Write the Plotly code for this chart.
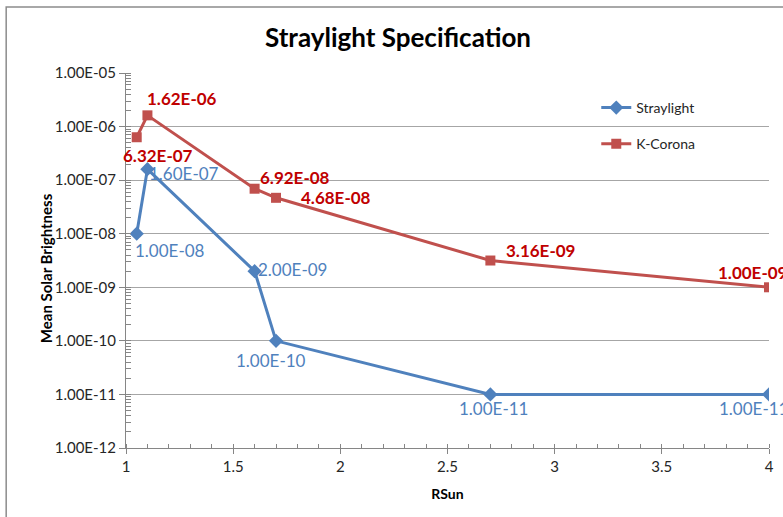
import math
import plotly.graph_objects as go

rsun = [1.05, 1.1, 1.6, 1.7, 2.7, 4.0]
straylight = [1.00e-08, 1.60e-07, 2.00e-09, 1.00e-10, 1.00e-11, 1.00e-11]
kcorona = [6.32e-07, 1.62e-06, 6.92e-08, 4.68e-08, 3.16e-09, 1.00e-09]
ytick_vals = [1e-12, 1e-11, 1e-10, 1e-09, 1e-08, 1e-07, 1e-06, 1e-05]
ytick_text = ["1.00E-12", "1.00E-11", "1.00E-10", "1.00E-09", "1.00E-08",
              "1.00E-07", "1.00E-06", "1.00E-05"]
xtick_vals = [1, 1.5, 2, 2.5, 3, 3.5, 4]
xtick_text = ["1", "1.5", "2", "2.5", "3", "3.5", "4"]

BLUE = "#4F81BD"
RED = "#C0504D"
RED_TXT = "#C00000"
FONT = "Lato"

W, H = 783, 517
L, R, T, B = 126, 9, 73, 69
PW, PH = 644, H - T - B

# label offsets (pixels) for each point
s_shift = [(33, -17), (37, -4), (38, 2), (-5, -20), (3, -14), (-16, -14)]
k_shift = [(21, -18), (35, 17), (40, 11), (60, 0), (50, 10), (-17, 15)]

fig = go.Figure()
fig.add_trace(go.Scatter(
    x=rsun, y=straylight, mode="lines+markers", name="Straylight",
    line=dict(color=BLUE, width=3),
    marker=dict(symbol="diamond", size=11, color=BLUE),
    legendgroup="a"))
fig.add_trace(go.Scatter(
    x=rsun, y=kcorona, mode="lines+markers", name="K-Corona",
    line=dict(color=RED, width=3),
    marker=dict(symbol="square", size=10, color=RED),
    legendgroup="b"))

for xv, yv, (dx, dy) in zip(rsun, straylight, s_shift):
    fig.add_annotation(x=xv, y=math.log10(yv), text=f"{yv:.2E}",
                       showarrow=False, xshift=dx, yshift=dy,
                       font=dict(family=FONT, size=17, color=BLUE))
for xv, yv, (dx, dy) in zip(rsun, kcorona, k_shift):
    fig.add_annotation(x=xv, y=math.log10(yv), text=f"<b>{yv:.2E}</b>",
                       showarrow=False, xshift=dx, yshift=dy,
                       font=dict(family=FONT, size=17, color=RED_TXT))

# y-axis title
fig.add_annotation(xref="paper", yref="paper", x=(35 - L) / PW, y=(H - B - 268) / PH,
                   text="<b>Mean Solar Brightness</b>", textangle=-90, showarrow=False,
                   font=dict(family=FONT, size=15, color="black"))

# chart frame
fig.add_shape(type="rect", xref="paper", yref="paper",
              x0=(6 - L) / PW, x1=1.2, y0=-0.3, y1=(H - B - 7) / PH,
              line=dict(color="#8C8C8C", width=1.5), layer="below")

fig.update_layout(
    width=W, height=H,
    margin=dict(l=L, r=R, t=T, b=B),
    paper_bgcolor="white", plot_bgcolor="white",
    font=dict(family=FONT, size=15, color="#262626"),
    title=dict(text="<b>Straylight Specification</b>", x=398/W, xref="container",
               xanchor="center", y=1 - 38/H, yanchor="middle",
               font=dict(family=FONT, size=26, color="black")),
    showlegend=True,
    legend=dict(x=(597 - L) / PW, y=(H - B - 92) / PH, xanchor="left", yanchor="top",
                bgcolor="rgba(0,0,0,0)", font=dict(family=FONT, size=14, color="#262626"),
                tracegroupgap=15),
    xaxis=dict(range=[1, 4], tickvals=xtick_vals, ticktext=xtick_text,
               showgrid=False, zeroline=False, showline=True, linecolor="#868686",
               linewidth=1, ticks="outside", ticklen=5, tickcolor="#868686",
               tickfont=dict(family=FONT, size=15, color="#262626"),
               minor=dict(ticks="inside", ticklen=4, dtick=0.1, tickcolor="#868686", showgrid=False),
               title=dict(text="<b>RSun</b>", font=dict(family=FONT, size=14, color="black"), standoff=15)),
    yaxis=dict(type="log", range=[-12, -5], tickvals=ytick_vals, ticktext=ytick_text,
               showgrid=True, gridcolor="#A6A6A6", gridwidth=1, zeroline=False,
               showline=True, linecolor="#868686", linewidth=1,
               ticks="outside", ticklen=6, tickcolor="#868686",
               tickfont=dict(family=FONT, size=15, color="#262626"),
               minor=dict(ticks="inside", ticklen=5, dtick="D1", tickcolor="#868686", showgrid=False)),
)

fig.write_html("out.html", config={"displayModeBar": False, "responsive": False},
               post_script="document.body.style.margin='0';document.body.style.overflow='hidden';")
